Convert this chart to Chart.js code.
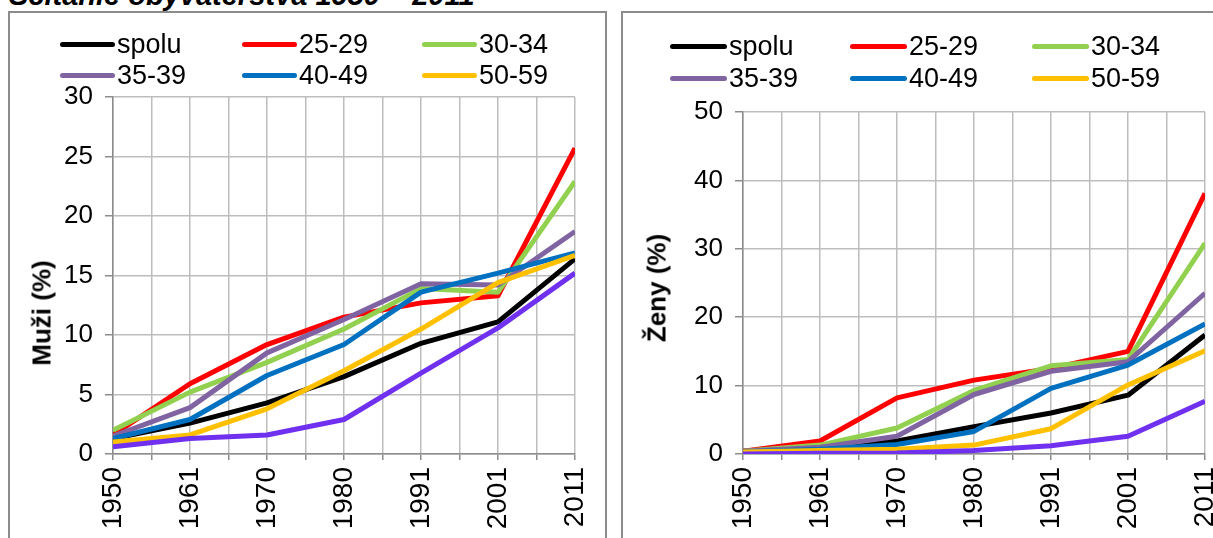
<!DOCTYPE html>
<html>
<head>
<meta charset="utf-8">
<script src="https://cdn.jsdelivr.net/npm/chart.js@4.4.1/dist/chart.umd.min.js"></script>
<style>
html,body{margin:0;padding:0;background:#fff;overflow:hidden;width:1213px;height:538px;font-family:"Liberation Sans",Arial,sans-serif;}
.box{position:absolute;border:2px solid #8c8c8c;box-sizing:border-box;background:#fff;}
#title{position:absolute;left:9px;top:-21px;font:italic bold 29px "Liberation Sans",Arial,sans-serif;white-space:nowrap;color:#000;}
canvas{position:absolute;}
.item{position:absolute;display:flex;align-items:center;height:30px;font:27px "Liberation Sans",Arial,sans-serif;color:#000;white-space:nowrap;}
.swatch{display:inline-block;height:5px;border-radius:3px;margin-right:2px;}
.ytitle{position:absolute;font:bold 26px "Liberation Sans",Arial,sans-serif;transform:translate(-50%,-50%) rotate(-90deg);white-space:nowrap;color:#000;}
</style>
</head>
<body>
<div id="title">Sčítanie obyvateľstva 1950 – 2011</div>
<div class="box" style="left:8px;top:11px;width:599px;height:560px;"></div>
<div class="box" style="left:621px;top:11px;width:620px;height:560px;"></div>
<canvas id="c1" width="594" height="525" style="left:10px;top:13px;"></canvas>
<canvas id="c2" width="610" height="525" style="left:623px;top:13px;"></canvas>
<div id="legends"></div>
<div class="ytitle" id="yt1" style="left:42px;top:313px;"></div>
<div class="ytitle" id="yt2" style="left:657px;top:288px;"></div>
<script>
// ---- data ----
const years = ['1950','1961','1970','1980','1991','2001','2011'];
const seriesLabels = ['spolu','25-29','30-34','35-39','40-49','50-59','60+'];
const legendLabels = ['spolu','25-29','30-34','35-39','40-49','50-59'];
const seriesColors = ['#000000','#FF0000','#92D050','#8064A2','#0070C0','#FFC000','#7030F0'];

const menSpolu = [1.3, 2.6, 4.3, 6.5, 9.3, 11.1, 16.4];
const men2529  = [1.6, 5.9, 9.2, 11.5, 12.7, 13.3, 25.7];
const men3034  = [2.0, 5.2, 7.7, 10.5, 13.9, 13.6, 22.9];
const men3539  = [1.5, 3.9, 8.5, 11.3, 14.3, 14.2, 18.7];
const men4049  = [1.3, 2.9, 6.6, 9.2, 13.6, 15.2, 16.9];
const men5059  = [1.0, 1.6, 3.8, 7.0, 10.5, 14.4, 16.7];
const men60    = [0.6, 1.3, 1.6, 2.9, 6.8, 10.6, 15.2];

const womenSpolu = [0.4, 0.8, 1.9, 4.0, 6.0, 8.6, 17.4];
const women2529  = [0.4, 1.9, 8.2, 10.8, 12.5, 15.0, 38.1];
const women3034  = [0.4, 1.3, 3.8, 9.3, 12.9, 13.8, 30.8];
const women3539  = [0.4, 1.0, 2.6, 8.7, 12.1, 13.5, 23.5];
const women4049  = [0.3, 0.7, 1.4, 3.3, 9.6, 13.0, 19.0];
const women5059  = [0.3, 0.5, 0.7, 1.3, 3.7, 10.1, 15.1];
const women60    = [0.0, 0.1, 0.15, 0.5, 1.2, 2.6, 7.7];

const menTicks = {max: 30, step: 5};
const womenTicks = {max: 50, step: 10};
const menTitle = 'Muži (%)';
const womenTitle = 'Ženy (%)';

const menSeries = [menSpolu, men2529, men3034, men3539, men4049, men5059, men60];
const womenSeries = [womenSpolu, women2529, women3034, women3539, women4049, women5059, women60];

const FONT = '"Liberation Sans", Arial, sans-serif';
const GRID = '#bdbdbd';
const AXIS = '#8c8c8c';

function makeChart(id, series, ticksCfg, pad) {
  const datasets = series.map((vals, i) => ({
    label: seriesLabels[i],
    data: vals.map((v, j) => ({x: j, y: v})),
    borderColor: seriesColors[i],
    backgroundColor: seriesColors[i],
    borderWidth: 5,
    pointRadius: 0,
    tension: 0,
    borderJoinStyle: 'round',
    borderCapStyle: 'butt',
    order: series.length - i
  }));
  return new Chart(document.getElementById(id), {
    type: 'line',
    data: {datasets},
    options: {
      responsive: false,
      animation: false,
      devicePixelRatio: 1,
      layout: {padding: pad},
      plugins: {legend: {display: false}, tooltip: {enabled: false}, title: {display: false}},
      scales: {
        x: {
          type: 'linear', min: 0, max: years.length - 1,
          afterFit: s => { s.height = 84; s.paddingLeft = 0; s.paddingRight = 0; },
          grid: {color: GRID, lineWidth: 1.5, tickLength: 6, tickColor: AXIS, drawTicks: true},
          border: {color: AXIS, width: 1.5},
          ticks: {
            stepSize: 0.5, autoSkip: false, maxRotation: 90, minRotation: 90, padding: 7,
            color: '#000', font: {family: FONT, size: 28},
            callback: v => Number.isInteger(v) ? years[v] : ''
          }
        },
        y: {
          min: 0, max: ticksCfg.max,
          afterFit: s => { s.width = 60; },
          grid: {color: GRID, lineWidth: 1.5, tickLength: 8, tickColor: AXIS, drawTicks: true},
          border: {color: AXIS, width: 1.5},
          ticks: {stepSize: ticksCfg.step, padding: 12, color: '#000', font: {family: FONT, size: 26}}
        }
      }
    }
  });
}

makeChart('c1', menSeries, menTicks, {left: 43, right: 29, top: 84, bottom: 0});
makeChart('c2', womenSeries, womenTicks, {left: 60, right: 28, top: 99, bottom: 0});

document.getElementById('yt1').textContent = menTitle;
document.getElementById('yt2').textContent = womenTitle;

// HTML legends built from labels/colors
function buildLegend(colX, rowY, swW) {
  const host = document.getElementById('legends');
  legendLabels.forEach((lab, i) => {
    const r = Math.floor(i / 3), c = i % 3;
    const d = document.createElement('div');
    d.className = 'item';
    d.style.left = colX[c] + 'px';
    d.style.top = (rowY[r] - 15) + 'px';
    const sw = document.createElement('span');
    sw.className = 'swatch';
    sw.style.width = swW + 'px';
    sw.style.background = seriesColors[i];
    const t = document.createElement('span');
    t.textContent = lab;
    d.appendChild(sw); d.appendChild(t);
    host.appendChild(d);
  });
}
buildLegend([60, 242, 422], [44, 75], 55);
buildLegend([670, 850, 1032], [46, 78], 57);
</script>
</body>
</html>
